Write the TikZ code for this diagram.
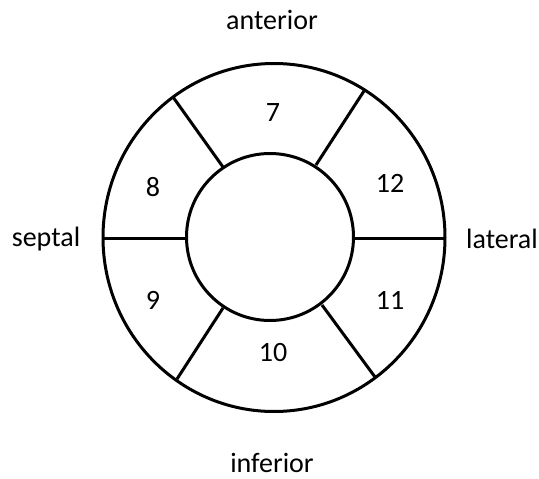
\documentclass[tikz,border=0pt]{standalone}
\usepackage{fontspec}
\setmainfont{Carlito}
\begin{document}
\begin{tikzpicture}[x=1pt,y=-1pt,
  ring/.style={line width=3pt,draw=black},
  lbl/.style={font=\fontsize{28}{32}\selectfont,inner sep=0pt}]
\useasboundingbox (0,0) rectangle (539,479);
\draw[ring] (274,237.5) ellipse[x radius=171,y radius=174];
\draw[ring] (270,237) circle[radius=83.5];
% dividers
\coordinate (ulI) at (223,167); \coordinate (ulO) at (173,97);
\coordinate (urI) at (316,165); \coordinate (urO) at (364,91);
\coordinate (llI) at (223,308); \coordinate (llO) at (177,379);
\coordinate (lrI) at (322,305); \coordinate (lrO) at (375,377);
\coordinate (lI) at (186.5,238); \coordinate (lO) at (103,238);
\coordinate (rI) at (353.5,238); \coordinate (rO) at (445,238);
\draw[ring] (ulI) -- (ulO);
\draw[ring] (urI) -- (urO);
\draw[ring] (llI) -- (llO);
\draw[ring] (lrI) -- (lrO);
\draw[ring] (lI) -- (lO);
\draw[ring] (rI) -- (rO);
\node[lbl] (n7) at (273,113) {7};
\node[lbl] (n8) at (153,187) {8};
\node[lbl] (n9) at (153,300) {9};
\node[lbl] (n10) at (273,353) {10};
\node[lbl] (n11) at (390,300) {11};
\node[lbl] (n12) at (390,183) {12};
\node[lbl] (ant) at (272,20) {anterior};
\node[lbl] (sep) at (46,239) {septal};
\node[lbl] (lat) at (502,239) {lateral};
\node[lbl] (inf) at (272,463) {inferior};
\end{tikzpicture}
\end{document}
